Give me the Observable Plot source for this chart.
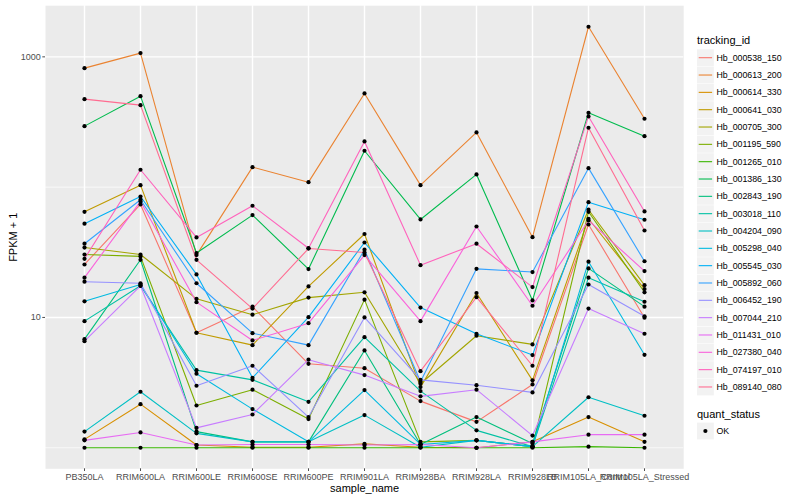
<!DOCTYPE html>
<html>
<head>
<meta charset="utf-8">
<script src="https://cdn.jsdelivr.net/npm/d3@7"></script>
<script src="https://cdn.jsdelivr.net/npm/@observablehq/plot@0.6"></script>
<style>
  html, body { margin: 0; padding: 0; background: white; }
  #wrap { position: relative; width: 800px; height: 500px; font-family: "Liberation Sans", Arial, sans-serif; }
  #chart { position: absolute; left: 0; top: 0; }
  #legend { position: absolute; left: 690px; top: 0; }
</style>
</head>
<body>
<div id="wrap"><div id="chart"></div><div id="legend"></div></div>
<script>
// ---- data ----
const samples = ["PB350LA","RRIM600LA","RRIM600LE","RRIM600SE","RRIM600PE","RRIM901LA","RRIM928BA","RRIM928LA","RRIM928LB","RRIM105LA_Control","RRIM105LA_Stressed"];
const trackingIds = ["Hb_000538_150","Hb_000613_200","Hb_000614_330","Hb_000641_030","Hb_000705_300","Hb_001195_590","Hb_001265_010","Hb_001386_130","Hb_002843_190","Hb_003018_110","Hb_004204_090","Hb_005298_040","Hb_005545_030","Hb_005892_060","Hb_006452_190","Hb_007044_210","Hb_011431_010","Hb_027380_040","Hb_074197_010","Hb_089140_080"];
const yTicks = [10, 1000];
const quantStatus = ["OK"];

const Hb_000538_150 = [25.5, 73.7, 7.63, 12.1, 4.41, 4.08, 2.28, 1.58, 3.06, 51.7, 9.95];
const Hb_000613_200 = [819, 1068, 30.1, 142.4, 109.2, 523.8, 103.6, 262.9, 41.3, 1702, 334.9];
const Hb_000614_330 = [1.16, 2.16, 1.05, 1.01, 1.01, 1.07, 1.01, 1.0, 1.11, 1.72, 1.11];
const Hb_000641_030 = [64.7, 103.6, 7.63, 6.13, 17.3, 43.7, 2.92, 15.4, 3.29, 57.2, 16.5];
const Hb_000705_300 = [34.4, 30.4, 13.9, 10.5, 14.2, 15.6, 3.10, 7.24, 6.21, 67.1, 17.7];
const Hb_001195_590 = [30.4, 29.4, 2.11, 2.79, 1.66, 13.7, 1.11, 1.14, 1.02, 64.7, 15.6];
const Hb_001265_010 = [1.0, 1.0, 1.0, 1.0, 1.0, 1.0, 1.0, 1.0, 1.0, 1.02, 1.0];
const Hb_001386_130 = [293.9, 499.3, 31.2, 61.0, 23.5, 190.2, 56.5, 125.2, 13.5, 372.4, 246.2];
const Hb_002843_190 = [6.81, 27.7, 1.33, 1.11, 1.11, 5.58, 1.06, 1.72, 1.08, 23.8, 12.1];
const Hb_003018_110 = [9.37, 17.5, 3.94, 3.32, 2.25, 7.06, 2.72, 1.36, 1.02, 20.2, 13.2];
const Hb_004204_090 = [1.33, 2.69, 1.29, 1.11, 1.11, 1.78, 1.01, 1.14, 1.02, 2.44, 1.76];
const Hb_005298_040 = [13.3, 17.9, 3.70, 1.98, 1.11, 2.77, 1.06, 1.14, 1.02, 26.8, 5.17];
const Hb_005545_030 = [52.4, 84.8, 21.4, 3.44, 10.05, 37.6, 11.9, 7.50, 5.14, 76.7, 56.2];
const Hb_005892_060 = [36.8, 80.1, 18.3, 7.58, 6.13, 33.1, 3.21, 23.6, 22.3, 139.9, 27.0];
const Hb_006452_190 = [18.8, 18.3, 2.99, 4.26, 1.72, 10.0, 3.32, 3.02, 2.66, 17.9, 10.2];
const Hb_007044_210 = [6.58, 17.5, 1.42, 1.80, 4.74, 3.61, 2.48, 2.79, 1.24, 11.7, 7.50];
const Hb_011431_010 = [1.14, 1.31, 1.05, 1.06, 1.06, 1.05, 1.06, 1.0, 1.11, 1.26, 1.26];
const Hb_027380_040 = [20.2, 77.7, 13.1, 6.66, 9.04, 30.1, 9.37, 49.9, 12.3, 55.5, 22.7];
const Hb_074197_010 = [28.2, 136.0, 41.1, 72.0, 34.0, 224.2, 25.2, 36.8, 17.1, 348.8, 65.1];
const Hb_089140_080 = [473.5, 425.9, 27.7, 11.7, 33.8, 31.5, 3.87, 14.3, 4.26, 285.7, 46.5];

// ---- style ----
const palette = ["#F8766D","#EA8331","#D89000","#C09B00","#A3A500","#7CAE00","#39B600","#00BB4E","#00BF7D","#00C1A3","#00BFC4","#00BAE0","#00B0F6","#35A2FF","#9590FF","#C77CFF","#E76BF3","#FA62DB","#FF62BC","#FF6C91"];

const seriesValues = [Hb_000538_150,Hb_000613_200,Hb_000614_330,Hb_000641_030,Hb_000705_300,Hb_001195_590,Hb_001265_010,Hb_001386_130,Hb_002843_190,Hb_003018_110,Hb_004204_090,Hb_005298_040,Hb_005545_030,Hb_005892_060,Hb_006452_190,Hb_007044_210,Hb_011431_010,Hb_027380_040,Hb_074197_010,Hb_089140_080];

const rows = [];
trackingIds.forEach((id, i) => {
  seriesValues[i].forEach((v, j) => rows.push({id, sample: samples[j], value: v}));
});

const lo = d3.min(rows, d => d.value), hi = d3.max(rows, d => d.value);
const pad = (Math.log10(hi) - Math.log10(lo)) * 0.05;
const yDomain = [Math.pow(10, Math.log10(lo) - pad), Math.pow(10, Math.log10(hi) + pad)];

const chart = Plot.plot({
  width: 690,
  height: 500,
  marginLeft: 45,
  marginRight: 6.8,
  marginTop: 5.2,
  marginBottom: 31.7,
  style: {fontFamily: "'Liberation Sans', Arial, sans-serif", fontSize: "9px", background: "white", color: "#4d4d4d"},
  x: {type: "point", domain: samples, padding: 0.6},
  y: {type: "log", domain: yDomain},
  color: {domain: trackingIds, range: palette},
  marks: [
    Plot.frame({fill: "#EBEBEB", stroke: "none"}),
    Plot.ruleY([1, 100], {stroke: "white", strokeWidth: 0.7}),
    Plot.ruleY(yTicks, {stroke: "white", strokeWidth: 1.4}),
    Plot.ruleX(samples, {stroke: "white", strokeWidth: 1.4}),
    Plot.line(rows, {x: "sample", y: "value", z: "id", stroke: "id", strokeWidth: 1.1}),
    Plot.dot(rows, {x: "sample", y: "value", fill: "black", stroke: "none", r: 2.1}),
    Plot.axisY({ticks: yTicks, tickFormat: d => String(d), tickSize: 2.7, tickPadding: 2, label: null, fontSize: 9}),
    Plot.axisX({tickSize: 2.7, tickPadding: 2.5, label: null, fontSize: 9}),
    Plot.text(["FPKM + 1"], {text: d => d, frameAnchor: "left", dx: -32, rotate: -90, textAnchor: "middle", lineAnchor: "middle", fontSize: 11, fill: "black"}),
    Plot.text(["sample_name"], {text: d => d, frameAnchor: "bottom", dy: 20, textAnchor: "middle", lineAnchor: "middle", fontSize: 11, fill: "black"})
  ]
});
document.getElementById("chart").appendChild(chart);

// ---- legend (SVG) ----
const svg = d3.select("#legend").append("svg")
  .attr("width", 110).attr("height", 500)
  .style("font-family", "'Liberation Sans', Arial, sans-serif");
const x0 = 7; // 697 in page coords
svg.append("text").attr("x", x0).attr("y", 40).attr("dy", "0.35em")
  .attr("font-size", 11).attr("fill", "black").text("tracking_id");
trackingIds.forEach((id, k) => {
  const cy = 57.7 + 17.33 * k;
  svg.append("rect").attr("x", x0).attr("y", cy - 8.4).attr("width", 16.8).attr("height", 16.8).attr("fill", "#F2F2F2");
  svg.append("line").attr("x1", x0 + 1.7).attr("x2", x0 + 15.1).attr("y1", cy).attr("y2", cy)
    .attr("stroke", palette[k]).attr("stroke-width", 1.1);
  svg.append("text").attr("x", 26.5).attr("y", cy).attr("dy", "0.35em")
    .attr("font-size", 8.8).attr("fill", "black").text(id);
});
svg.append("text").attr("x", x0).attr("y", 414).attr("dy", "0.35em")
  .attr("font-size", 11).attr("fill", "black").text("quant_status");
quantStatus.forEach((s, k) => {
  const cy = 431 + 17.33 * k;
  svg.append("rect").attr("x", x0).attr("y", cy - 8.4).attr("width", 16.8).attr("height", 16.8).attr("fill", "#F2F2F2");
  svg.append("circle").attr("cx", x0 + 8.4).attr("cy", cy).attr("r", 2.1).attr("fill", "black");
  svg.append("text").attr("x", 26.5).attr("y", cy).attr("dy", "0.35em")
    .attr("font-size", 8.8).attr("fill", "black").text(s);
});
</script>
</body>
</html>
